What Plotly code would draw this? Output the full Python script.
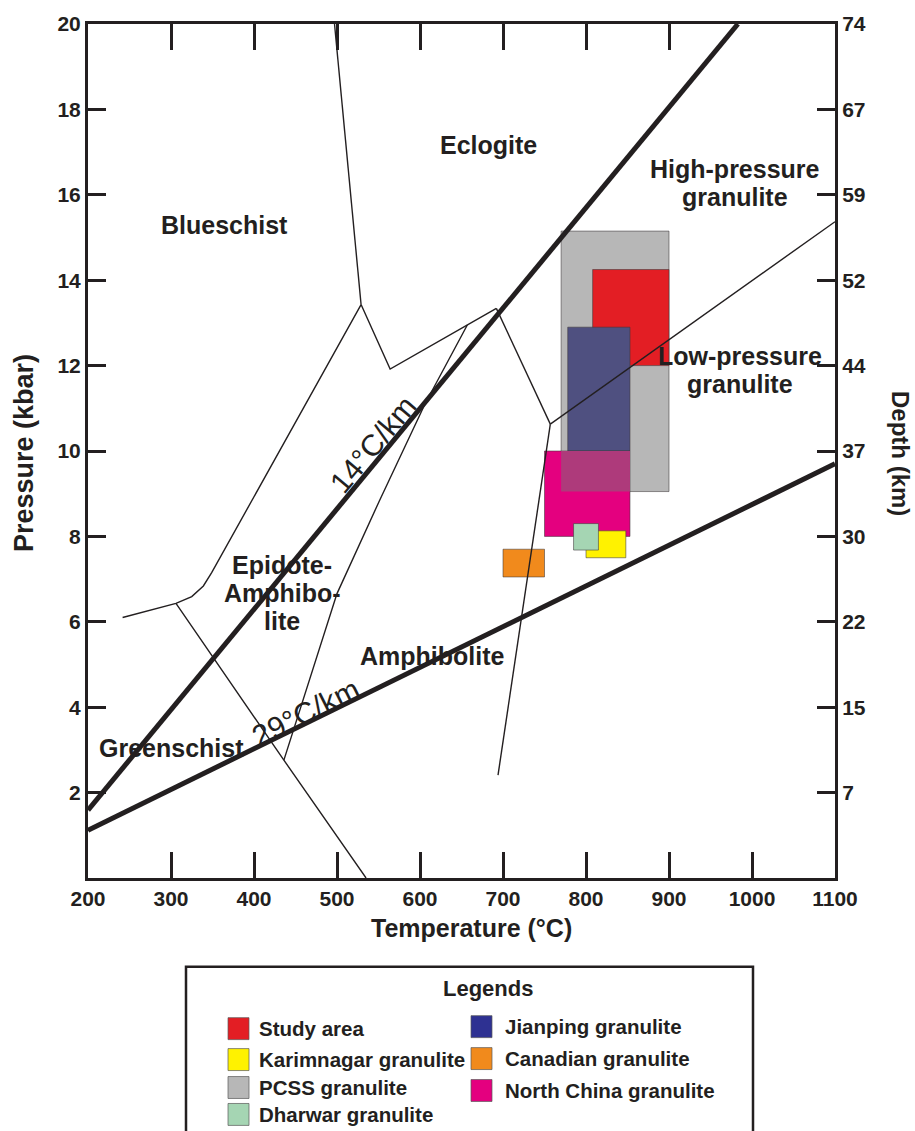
import plotly.graph_objects as go

FONT = "Liberation Sans, Arial, Helvetica, sans-serif"
INK = "#231f20"

# ---------------- data ----------------
x_tick_vals = [200, 300, 400, 500, 600, 700, 800, 900, 1000, 1100]
x_tick_text = ["200", "300", "400", "500", "600", "700", "800", "900", "1000", "1100"]
x_top_ticks = [300, 400, 500, 600, 700, 800, 900]
y_tick_vals = [2, 4, 6, 8, 10, 12, 14, 16, 18, 20]
y_tick_text = ["2", "4", "6", "8", "10", "12", "14", "16", "18", "20"]
depth_tick_text = ["7", "15", "22", "30", "37", "44", "52", "59", "67", "74"]

# P-T boxes (temperature in °C, pressure in kbar)
box_names = ["PCSS granulite", "Study area", "Jianping granulite", "North China granulite",
             "Karimnagar granulite", "Dharwar granulite", "Canadian granulite"]
box_t_min = [770, 808, 778, 750, 800, 785, 700]
box_t_max = [900, 900, 853, 853, 848, 815, 750]
box_p_min = [9.05, 12.0, 10.0, 8.0, 7.5, 7.68, 7.05]
box_p_max = [15.15, 14.25, 12.9, 10.0, 8.13, 8.3, 7.7]
box_fill = ["#b7b7b7", "#e31e24", "#4f5080", "#e4007f", "#fff200", "#a5d5b3", "#f18a1c"]
overlap_fill = "#ae3a7b"   # PCSS / North China overlap tint

# facies boundaries
blueschist_eclogite_t = [497, 529]
blueschist_eclogite_p = [20.0, 13.43]
eclogite_lower_t = [529, 564, 692]
eclogite_lower_p = [13.43, 11.92, 13.34]
blueschist_epidote_t = [529, 360, 349, 339, 325, 306, 274, 241.7]
blueschist_epidote_p = [13.43, 7.50, 7.15, 6.84, 6.59, 6.43, 6.26, 6.10]
greenschist_t = [306, 436, 535]
greenschist_p = [6.43, 2.76, 0.0]
epidote_amph_t = [657, 606, 551, 500, 436]
epidote_amph_p = [12.95, 11.10, 8.83, 6.66, 2.76]
eclogite_granulite_t = [692, 757]
eclogite_granulite_p = [13.34, 10.63]
hp_lp_granulite_t = [757, 1100]
hp_lp_granulite_p = [10.63, 15.37]
amph_granulite_t = [757, 694]
amph_granulite_p = [10.63, 2.41]

# geotherms (straight lines)
geotherm14_t = [200, 983]
geotherm14_p = [1.59, 20.0]
geotherm29_t = [200, 1100]
geotherm29_p = [1.12, 9.70]

# field labels
field_labels = ["Eclogite", "High-pressure|granulite", "Blueschist", "Low-pressure|granulite",
                "Epidote-|Amphibo-|lite", "Amphibolite", "Greenschist"]
field_t = [683, 979, 364, 985, 434, 615, 300]
field_p = [17.17, 16.28, 15.3, 11.89, 6.68, 5.21, 3.04]

geotherm_labels = ["14°C/km", "29°C/km"]
geotherm_label_t = [543, 462]
geotherm_label_p = [10.16, 3.88]
geotherm_label_angle = [-50, -26.5]

# legend layout (left column then right column)
legend_left = ["Study area", "Karimnagar granulite", "PCSS granulite", "Dharwar granulite"]
legend_left_colors = ["#e31e24", "#fff200", "#b7b7b7", "#a5d5b3"]
legend_right = ["Jianping granulite", "Canadian granulite", "North China granulite"]
legend_right_colors = ["#2e3192", "#f18a1c", "#e4007f"]

# ---------------- geometry helpers (layout only) ----------------
W, H = 915, 1131
ML, MR, MT, MB = 88, 80, 22, 253
PW = W - ML - MR
PH = H - MT - MB


def px_x(px):
    return (px - ML) / PW


def px_y(py):
    return (H - MB - py) / PH


fig = go.Figure()

# boxes
shapes = []
for i in range(len(box_names)):
    shapes.append(dict(type="rect", xref="x", yref="y", layer="below",
                       x0=box_t_min[i], x1=box_t_max[i], y0=box_p_min[i], y1=box_p_max[i],
                       fillcolor=box_fill[i],
                       line=dict(color="rgba(60,55,56,0.55)", width=1)))
    if box_names[i] == "North China granulite":
        a = box_names.index("PCSS granulite")
        shapes.append(dict(type="rect", xref="x", yref="y", layer="below",
                           x0=max(box_t_min[a], box_t_min[i]), x1=min(box_t_max[a], box_t_max[i]),
                           y0=max(box_p_min[a], box_p_min[i]), y1=min(box_p_max[a], box_p_max[i]),
                           fillcolor=overlap_fill, line=dict(width=0)))

# facies boundary lines
thin = [
    (blueschist_eclogite_t, blueschist_eclogite_p),
    (eclogite_lower_t, eclogite_lower_p),
    (blueschist_epidote_t, blueschist_epidote_p),
    (greenschist_t, greenschist_p),
    (epidote_amph_t, epidote_amph_p),
    (eclogite_granulite_t, eclogite_granulite_p),
    (hp_lp_granulite_t, hp_lp_granulite_p),
    (amph_granulite_t, amph_granulite_p),
]
for t, p in thin:
    fig.add_trace(go.Scatter(x=t, y=p, mode="lines", line=dict(color=INK, width=1.4),
                             hoverinfo="skip", showlegend=False))
for t, p in [(geotherm14_t, geotherm14_p), (geotherm29_t, geotherm29_p)]:
    fig.add_trace(go.Scatter(x=t, y=p, mode="lines", line=dict(color=INK, width=5),
                             hoverinfo="skip", showlegend=False))

# invisible traces to activate top and right axes
fig.add_trace(go.Scatter(x=[200], y=[0], xaxis="x2", yaxis="y", mode="markers",
                         marker=dict(opacity=0), hoverinfo="skip", showlegend=False))
fig.add_trace(go.Scatter(x=[200], y=[0], xaxis="x", yaxis="y3", mode="markers",
                         marker=dict(opacity=0), hoverinfo="skip", showlegend=False))

annotations = []
LINE_GAP = 28
for lab, t, p in zip(field_labels, field_t, field_p):
    parts = lab.split("|")
    n = len(parts)
    for k, part in enumerate(parts):
        annotations.append(dict(x=t, y=p, xref="x", yref="y", text="<b>%s</b>" % part,
                                showarrow=False, xanchor="center", yanchor="middle",
                                yshift=((n - 1) / 2 - k) * LINE_GAP,
                                font=dict(family=FONT, size=25, color=INK)))
for lab, t, p, ang in zip(geotherm_labels, geotherm_label_t, geotherm_label_p, geotherm_label_angle):
    annotations.append(dict(x=t, y=p, xref="x", yref="y", text=lab, showarrow=False,
                            textangle=ang, xanchor="center", yanchor="middle",
                            font=dict(family=FONT, size=30, color=INK)))


def paper_text(px, py, text, size, angle=0, xanchor="center"):
    return dict(x=px_x(px), y=px_y(py), xref="paper", yref="paper", text=text,
                showarrow=False, textangle=angle, xanchor=xanchor, yanchor="middle",
                font=dict(family=FONT, size=size, color=INK))


# axis titles
annotations.append(paper_text(472, 928, "<b>Temperature (°C)</b>", 25))
annotations.append(paper_text(24, 452, "<b>Pressure (kbar)</b>", 27, angle=-90))
annotations.append(paper_text(900, 452, "<b>Depth (km)</b>", 24, angle=90))

# legend box
shapes.append(dict(type="rect", xref="paper", yref="paper",
                   x0=px_x(186), x1=px_x(753), y0=px_y(1160), y1=px_y(967),
                   line=dict(color=INK, width=2.5), fillcolor="rgba(0,0,0,0)"))
annotations.append(paper_text(488, 989, "<b>Legends</b>", 22))
left_y = [1029, 1060, 1088, 1115]
right_y = [1027, 1059, 1091]
for names, cols, ys, sx, tx in [(legend_left, legend_left_colors, left_y, 228, 257),
                                (legend_right, legend_right_colors, right_y, 471, 503)]:
    for nm, c, yc in zip(names, cols, ys):
        shapes.append(dict(type="rect", xref="paper", yref="paper",
                           x0=px_x(sx), x1=px_x(sx + 21), y0=px_y(yc + 11), y1=px_y(yc - 11),
                           fillcolor=c, line=dict(color="rgba(90,90,90,0.7)", width=1)))
        annotations.append(paper_text(tx, yc, "<b>%s</b>" % nm, 20.5, xanchor="left"))

tickfont = dict(family=FONT, size=21, color=INK, weight="bold")
axis_common = dict(showgrid=False, zeroline=False, showline=True, linewidth=3, linecolor=INK,
                   ticks="inside", tickwidth=3, tickcolor=INK, tickfont=tickfont)

fig.update_layout(
    width=W, height=H,
    margin=dict(l=ML, r=MR, t=MT, b=MB, pad=0),
    paper_bgcolor="white", plot_bgcolor="white",
    showlegend=False,
    xaxis=dict(range=[200, 1100], tickvals=x_tick_vals, ticktext=x_tick_text,
               ticklen=26, **axis_common),
    xaxis2=dict(range=[200, 1100], overlaying="x", side="top", anchor="y",
                tickvals=x_top_ticks, showticklabels=False, ticklen=26, **axis_common),
    yaxis=dict(range=[0, 20], tickvals=y_tick_vals, ticktext=y_tick_text,
               ticklen=18, **axis_common),
    yaxis3=dict(range=[0, 20], overlaying="y", side="right", anchor="x",
                tickvals=y_tick_vals, ticktext=depth_tick_text, ticklen=18, **axis_common),
    shapes=shapes,
    annotations=annotations,
)

fig.write_html("out.html")
